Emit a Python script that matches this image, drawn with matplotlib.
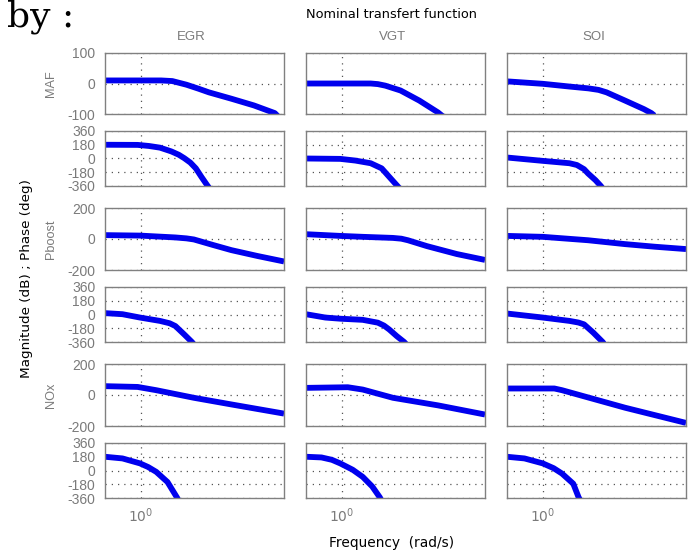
import matplotlib
matplotlib.use("Agg")
import matplotlib.pyplot as plt
from matplotlib.ticker import NullLocator, FixedLocator

# ---------------- data ----------------
inputs = ["EGR", "VGT", "SOI"]
outputs = ["MAF", "Pboost", "NOx"]
mag_limits = [(-100, 100), (-200, 200), (-200, 200)]
mag_ticks = [[-100, 0, 100], [-200, 0, 200], [-200, 0, 200]]
phase_ticks = [-360, -180, 0, 180, 360]
x_tick_labels = ["$10^{0}$"]

# MAF
maf_egr_w = [0.63, 1.30, 1.50, 1.80, 2.10, 2.40, 3.21, 4.29, 5.60, 5.85]
maf_egr_mag = [10, 10, 8, -4, -17, -29, -50, -72, -97, -108]
maf_egr_pw = [0.63, 0.96, 1.11, 1.28, 1.48, 1.63, 1.75, 1.89, 2.03, 2.18, 2.35, 2.42]
maf_egr_ph = [180, 178, 164, 142, 93, 49, 4, -53, -129, -240, -351, -390]

maf_vgt_w = [0.63, 1.45, 1.59, 1.75, 2.13, 2.71, 3.45, 3.80]
maf_vgt_mag = [0, 0, -2, -7, -23, -56, -95, -115]
maf_vgt_pw = [0.63, 0.98, 1.19, 1.45, 1.67, 1.84, 2.03, 2.10]
maf_vgt_ph = [0, -5, -27, -62, -129, -240, -351, -390]

maf_soi_w = [0.63, 1.0, 1.41, 1.80, 2.05, 2.27, 2.88, 3.67, 4.04, 4.20]
maf_soi_mag = [7, -1, -10, -16, -21, -29, -56, -84, -97, -105]
maf_soi_pw = [0.63, 1.0, 1.41, 1.55, 1.70, 1.79, 1.97, 2.11, 2.15]
maf_soi_ph = [13, -31, -62, -85, -140, -196, -284, -360, -385]

# Pboost
pb_egr_w = [0.63, 0.99, 1.56, 1.80, 1.98, 2.52, 3.21, 4.50, 6.31]
pb_egr_mag = [25, 22, 10, 4, -3, -38, -72, -110, -145]
pb_egr_pw = [0.63, 0.79, 0.99, 1.28, 1.45, 1.56, 1.75, 1.93, 1.97]
pb_egr_ph = [18, 4, -40, -84, -115, -151, -262, -360, -385]

pb_vgt_w = [0.63, 0.98, 1.31, 1.93, 2.15, 2.34, 2.99, 4.39, 6.31]
pb_vgt_mag = [31, 20, 14, 7, 2, -8, -46, -97, -135]
pb_vgt_pw = [0.63, 0.81, 0.98, 1.31, 1.59, 1.72, 1.84, 2.03, 2.23, 2.28]
pb_vgt_ph = [4, -40, -55, -70, -107, -145, -196, -284, -360, -385]

pb_soi_w = [0.63, 1.0, 1.79, 2.88, 4.24, 6.31]
pb_soi_mag = [20, 14, -8, -33, -50, -65]
pb_soi_pw = [0.63, 1.0, 1.41, 1.58, 1.70, 1.92, 2.16, 2.20]
pb_soi_ph = [13, -40, -84, -105, -129, -240, -360, -385]

# NOx
nox_egr_w = [0.63, 0.96, 1.22, 1.98, 3.21, 6.31]
nox_egr_mag = [57, 52, 31, -18, -61, -120]
nox_egr_pw = [0.63, 0.79, 0.99, 1.10, 1.22, 1.41, 1.59, 1.62]
nox_egr_ph = [180, 158, 93, 45, -18, -151, -351, -385]

nox_vgt_w = [0.63, 1.08, 1.31, 1.93, 3.45, 6.31]
nox_vgt_mag = [46, 50, 35, -18, -67, -126]
nox_vgt_pw = [0.63, 0.77, 0.88, 0.98, 1.15, 1.31, 1.48, 1.63, 1.66]
nox_vgt_ph = [180, 171, 140, 93, 10, -84, -210, -351, -385]

nox_soi_w = [0.63, 1.16, 1.28, 2.88, 6.31]
nox_soi_mag = [42, 42, 31, -82, -180]
nox_soi_pw = [0.63, 0.79, 1.0, 1.15, 1.28, 1.48, 1.585, 1.62]
nox_soi_ph = [180, 158, 93, 30, -40, -173, -351, -390]

mag_data = [
    [(maf_egr_w, maf_egr_mag), (maf_vgt_w, maf_vgt_mag), (maf_soi_w, maf_soi_mag)],
    [(pb_egr_w, pb_egr_mag), (pb_vgt_w, pb_vgt_mag), (pb_soi_w, pb_soi_mag)],
    [(nox_egr_w, nox_egr_mag), (nox_vgt_w, nox_vgt_mag), (nox_soi_w, nox_soi_mag)],
]
phase_data = [
    [(maf_egr_pw, maf_egr_ph), (maf_vgt_pw, maf_vgt_ph), (maf_soi_pw, maf_soi_ph)],
    [(pb_egr_pw, pb_egr_ph), (pb_vgt_pw, pb_vgt_ph), (pb_soi_pw, pb_soi_ph)],
    [(nox_egr_pw, nox_egr_ph), (nox_vgt_pw, nox_vgt_ph), (nox_soi_pw, nox_soi_ph)],
]

# ---------------- layout ----------------
W, H = 689, 552
fig = plt.figure(figsize=(W / 100, H / 100), dpi=100)
plt.rcParams['font.family'] = ['Liberation Sans', 'DejaVu Sans']

col_left = [105, 306, 507]
col_w = 179
row_px = [(53, 114), (131, 186), (208, 270), (287, 342), (364, 426), (443, 498)]

GRAY = '#7a7a7a'
SPINE = '#808080'
BLUE = '#0000ee'
XMIN, XMAX = 10 ** -0.2, 10 ** 0.8


def make_ax(col, r):
    top, bot = row_px[r]
    ax = fig.add_axes([col_left[col] / W, 1 - bot / H, col_w / W, (bot - top) / H])
    ax.set_xscale('log')
    ax.set_xlim(XMIN, XMAX)
    ax.xaxis.set_major_locator(FixedLocator([1.0]))
    ax.xaxis.set_minor_locator(NullLocator())
    ax.grid(True, which='major', color='#555555', linestyle=(0, (1, 4)), linewidth=0.9)
    for s in ax.spines.values():
        s.set_color(SPINE)
        s.set_linewidth(1.0)
    ax.tick_params(length=0, colors=GRAY, labelsize=10, pad=7)
    return ax


for i in range(3):
    for j in range(3):
        # magnitude
        axm = make_ax(j, 2 * i)
        w, m = mag_data[i][j]
        axm.plot(w, m, color=BLUE, lw=4.2, solid_capstyle='butt', solid_joinstyle='round')
        axm.set_ylim(*mag_limits[i])
        axm.set_yticks(mag_ticks[i])
        axm.set_xticklabels([])
        if j == 0:
            axm.set_yticklabels([str(t) for t in mag_ticks[i]])
        else:
            axm.set_yticklabels([])
        # phase
        axp = make_ax(j, 2 * i + 1)
        w, p = phase_data[i][j]
        axp.plot(w, p, color=BLUE, lw=4.2, solid_capstyle='butt', solid_joinstyle='round')
        axp.set_ylim(-360, 360)
        axp.set_yticks(phase_ticks)
        if j == 0:
            axp.set_yticklabels([str(t) for t in phase_ticks])
        else:
            axp.set_yticklabels([])
        if i == 2:
            axp.set_xticklabels(x_tick_labels)
            axp.tick_params(axis='x', labelsize=10, pad=6)
        else:
            axp.set_xticklabels([])

# column titles
for j, name in enumerate(inputs):
    fig.text((col_left[j] + col_w / 2 - 3) / W, 1 - 37.5 / H, name, ha='center', va='center',
             color=GRAY, fontsize=9.5)

# row labels
for i, name in enumerate(outputs):
    top, bot = row_px[2 * i]
    fig.text(51 / W, 1 - (top + bot) / 2 / H, name, ha='center', va='center',
             rotation=90, color=GRAY, fontsize=9.2)

fig.text(392 / W, 1 - 15 / H, "Nominal transfert function", ha='center', va='center',
         color='black', fontsize=9.3, family='DejaVu Sans')
fig.text(27 / W, 1 - 278 / H, "Magnitude (dB) ; Phase (deg)", ha='center', va='center',
         rotation=90, color='black', fontsize=9.7, family='DejaVu Sans')
fig.text(392 / W, 1 - 543 / H, "Frequency  (rad/s)", ha='center', va='center',
         color='black', fontsize=9.9, family='DejaVu Sans')

fig.text(7 / W, 1 - 26 / H, "by :", ha='left', va='baseline', color='black',
         fontsize=26, family='DejaVu Serif')

fig.savefig("out.png", dpi=100)
